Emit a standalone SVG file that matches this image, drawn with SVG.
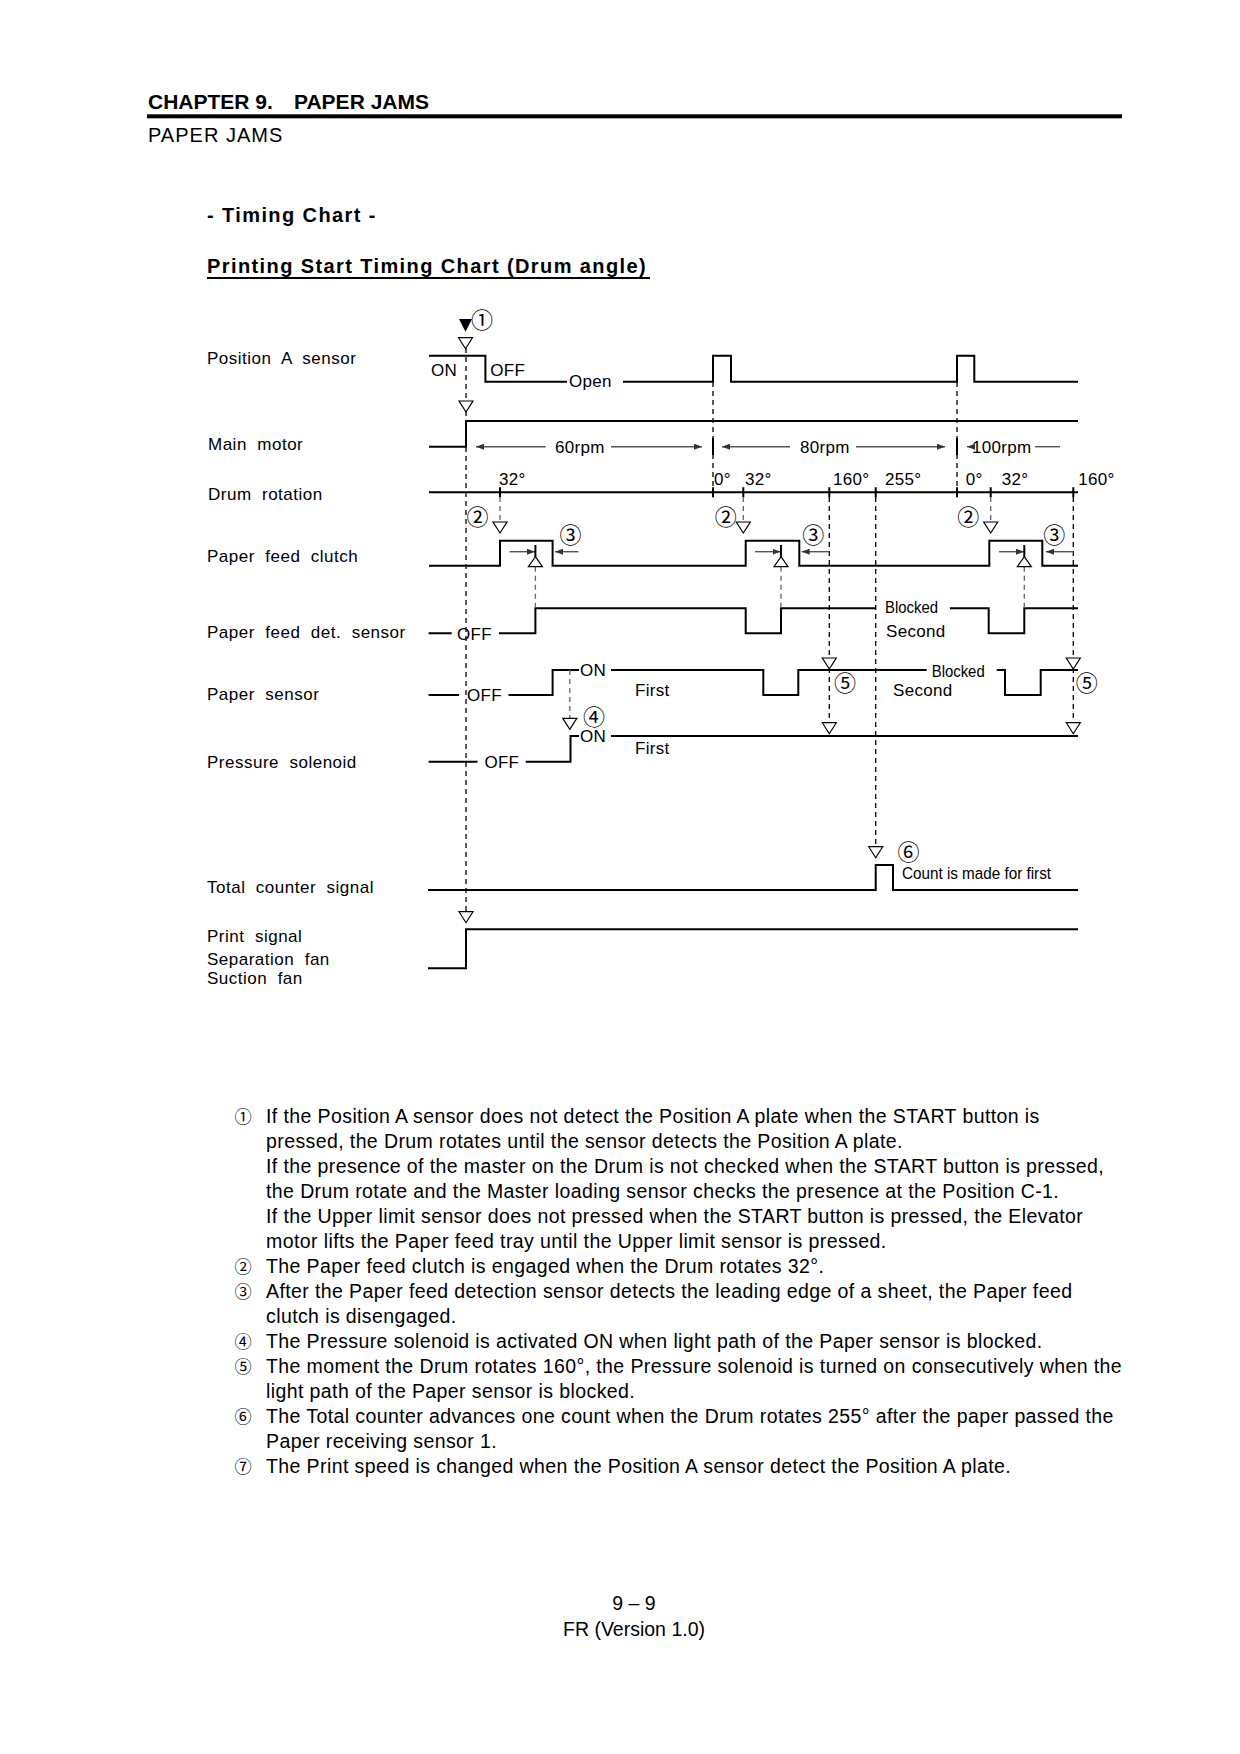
<svg xmlns="http://www.w3.org/2000/svg" width="1240" height="1754" viewBox="0 0 1240 1754">
<style>
text{font-family:"Liberation Sans",Arial,sans-serif;fill:#000}
.h1{font-size:21px;font-weight:bold}
.h2{font-size:20px;letter-spacing:1px}
.h3{font-size:20px;font-weight:bold;letter-spacing:1.4px}
.lbl{font-size:17px;letter-spacing:0.5px}
.sm{font-size:17px;letter-spacing:0.3px}
.nar{font-size:16px}
.cn{font-family:"Noto Sans CJK JP","DejaVu Sans",sans-serif;font-size:22px;text-anchor:middle}
.note{font-size:19.5px;letter-spacing:0.4px}
.ncn{font-family:"Noto Sans CJK JP","DejaVu Sans",sans-serif;font-size:17.2px;text-anchor:middle}
.sig{fill:none;stroke:#000;stroke-width:2}
.axis{fill:none;stroke:#000;stroke-width:2}
.dash{fill:none;stroke:#000;stroke-width:1.3;stroke-dasharray:5 4}
.gdash{fill:none;stroke:#666;stroke-width:1.3;stroke-dasharray:5 4}
.dim{fill:none;stroke:#555;stroke-width:1.4}
.tri{fill:#fff;stroke:#000;stroke-width:1.2}
</style>
<defs>
<marker id="ah" viewBox="0 0 8 6" refX="8" refY="3" markerWidth="8" markerHeight="6" markerUnits="userSpaceOnUse" orient="auto"><path d="M0,0 L8,3 L0,6 Z" fill="#333"/></marker>
<path id="td" d="M-7,0 L7,0 L0,11 Z"/>
<path id="tu" d="M0,0 L7,10 L-7,10 Z"/>
</defs>

<g id="header">
<text class="h1" x="148" y="109">CHAPTER 9.<tspan x="294">PAPER JAMS</tspan></text>
<rect x="147" y="114.3" width="975" height="4" fill="#000"/>
<text class="h2" x="148" y="141.7">PAPER JAMS</text>
<text class="h3" x="207" y="222">- Timing Chart -</text>
<text class="h3" x="207" y="273">Printing Start Timing Chart (Drum angle)</text>
<line x1="207" y1="278" x2="650" y2="278" stroke="#000" stroke-width="2"/>
</g>

<g id="labels">
<text class="lbl" x="207" y="364" xml:space="preserve">Position  A  sensor</text>
<text class="lbl" x="208" y="450" xml:space="preserve">Main  motor</text>
<text class="lbl" x="208" y="500" xml:space="preserve">Drum  rotation</text>
<text class="lbl" x="207" y="561.7" xml:space="preserve">Paper  feed  clutch</text>
<text class="lbl" x="207" y="638.3" xml:space="preserve">Paper  feed  det.  sensor</text>
<text class="lbl" x="207" y="700" xml:space="preserve">Paper  sensor</text>
<text class="lbl" x="207" y="768.3" xml:space="preserve">Pressure  solenoid</text>
<text class="lbl" x="207" y="893.3" xml:space="preserve">Total  counter  signal</text>
<text class="lbl" x="207" y="941.7" xml:space="preserve">Print  signal</text>
<text class="lbl" x="207" y="965" xml:space="preserve">Separation  fan</text>
<text class="lbl" x="207" y="983.5" xml:space="preserve">Suction  fan</text>
</g>

<g id="position-a-sensor">
<path class="sig" d="M429,355.7 H485.4 V381.7 H567 M623,381.7 H713 V355.7 H731 V381.7 H957 V355.7 H974.3 V381.7 H1078"/>
<text class="sm" x="431" y="376">ON</text>
<text class="sm" x="490.3" y="376">OFF</text>
<text class="sm" x="569" y="387.3">Open</text>
</g>

<g id="main-motor">
<path class="sig" d="M429,446.7 H466 V421 H1078"/>
<text class="sm" x="555" y="452.7">60rpm</text>
<text class="sm" x="800" y="452.7">80rpm</text>
<text class="sm" x="972" y="452.7">100rpm</text>
</g>

<g id="drum-rotation">
<path class="axis" d="M429,492.3 H1078 M500,487.3 V497.3 M713,487.3 V497.3 M743.3,487.3 V497.3 M829.3,487.3 V497.3 M875.7,487.3 V497.3 M957,487.3 V497.3 M990.7,487.3 V497.3 M1073.3,487.3 V497.3"/>
<text class="sm" x="499" y="485">32°</text>
<text class="sm" x="714" y="485">0°</text>
<text class="sm" x="745" y="485">32°</text>
<text class="sm" x="833" y="485">160°</text>
<text class="sm" x="885" y="485">255°</text>
<text class="sm" x="965.7" y="485">0°</text>
<text class="sm" x="1001.7" y="485">32°</text>
<text class="sm" x="1078.3" y="485">160°</text>
</g>

<g id="paper-feed-clutch">
<path class="sig" d="M429,565.7 H500 V540.7 H552.6 V565.7 H745.7 V540.7 H799.3 V565.7 H989.3 V540.7 H1042.3 V565.7 H1078"/>
</g>

<g id="paper-feed-det-sensor">
<path class="sig" d="M428.6,633.3 H451.7 M499,633.3 H535.4 V608.3 H745.7 V633.3 H781 V608.3 H875.7 M950,608.3 H988.7 V633.3 H1024.3 V608.3 H1078"/>
<text class="sm" x="457" y="639.5">OFF</text>
<text class="nar" x="885" y="613" textLength="53" lengthAdjust="spacingAndGlyphs">Blocked</text>
<text class="sm" x="886" y="637.3">Second</text>
</g>

<g id="paper-sensor">
<path class="sig" d="M428.6,695 H459 M508.5,695 H552.6 V670 H579 M611,670 H763.3 V695 H798.3 V670 H926.7 M996.7,670 H1005 V695 H1040.7 V670 H1078"/>
<text class="sm" x="467" y="701">OFF</text>
<text class="sm" x="580" y="676">ON</text>
<text class="sm" x="635" y="696">First</text>
<text class="nar" x="931.7" y="677" textLength="53" lengthAdjust="spacingAndGlyphs">Blocked</text>
<text class="sm" x="893" y="695.7">Second</text>
</g>

<g id="pressure-solenoid">
<path class="sig" d="M428.6,761.7 H477.5 M525.7,761.7 H570.5 V736 H579 M611,736 H1078"/>
<text class="sm" x="484.4" y="767.7">OFF</text>
<text class="sm" x="580" y="742">ON</text>
<text class="sm" x="635" y="754">First</text>
</g>

<g id="total-counter-signal">
<path class="sig" d="M428,890 H875.7 V865 H893 V890 H1078"/>
<text class="nar" x="902" y="879.3" textLength="149" lengthAdjust="spacingAndGlyphs">Count is made for first</text>
</g>

<g id="print-signal">
<path class="sig" d="M428,968.3 H466 V929.3 H1078"/>
</g>

<g id="connectors">
<path class="dash" d="M466,348 V913 M713,382 V492 M957,382 V492 M829.3,497 V733 M1073.3,497 V733 M875.7,497 V858"/>
<path class="gdash" d="M500,497 V522 M743.3,497 V522 M990.7,497 V522 M535.4,566.7 V608.3 M781,566.7 V608.3 M1024.3,566.7 V608.3 M569.8,670 V718.3"/>
<path class="axis" d="M713,438 V455 M957,438 V455"/>
<path class="dim" d="M545.7,446.7 H476" marker-end="url(#ah)"/>
<path class="dim" d="M611,446.7 H702" marker-end="url(#ah)"/>
<path class="dim" d="M790,446.7 H722" marker-end="url(#ah)"/>
<path class="dim" d="M856,446.7 H945" marker-end="url(#ah)"/>
<path class="dim" d="M972,446.7 H967" marker-end="url(#ah)"/>
<path class="dim" d="M1035,446.7 H1060"/>
<path class="dim" d="M509.6,551.7 H535" marker-end="url(#ah)"/>
<path class="dim" d="M755,551.7 H780.6" marker-end="url(#ah)"/>
<path class="dim" d="M999,551.7 H1024" marker-end="url(#ah)"/>
<path class="dim" d="M578.4,551.7 H555" marker-end="url(#ah)"/>
<path class="dim" d="M829.3,551.7 H801.7" marker-end="url(#ah)"/>
<path class="dim" d="M1073.3,551.7 H1046" marker-end="url(#ah)"/>
<path class="sig" stroke-width="1.5" d="M535.4,545 V557 M781,545 V557 M1024.3,545 V557"/>
<path d="M459,319 L472,319 L465.5,331.7 Z" fill="#000"/>
<use href="#td" class="tri" x="465.5" y="337.7"/>
<use href="#td" class="tri" x="466" y="401"/>
<use href="#td" class="tri" x="500" y="522"/>
<use href="#td" class="tri" x="743.3" y="522"/>
<use href="#td" class="tri" x="990.7" y="522"/>
<use href="#tu" class="tri" x="535.4" y="556.7"/>
<use href="#tu" class="tri" x="781" y="556.7"/>
<use href="#tu" class="tri" x="1024.3" y="556.7"/>
<use href="#td" class="tri" x="829.3" y="658"/>
<use href="#td" class="tri" x="829.3" y="722.7"/>
<use href="#td" class="tri" x="1073.3" y="658"/>
<use href="#td" class="tri" x="1073.3" y="722.7"/>
<use href="#td" class="tri" x="569.8" y="718.3"/>
<use href="#td" class="tri" x="875.7" y="846.7"/>
<use href="#td" class="tri" x="466" y="911.7"/>
</g>

<g id="markers">
<text class="cn" x="482" y="327.8">①</text>
<text class="cn" x="477.5" y="525.2">②</text>
<text class="cn" x="725.7" y="525.2">②</text>
<text class="cn" x="968.3" y="525.2">②</text>
<text class="cn" x="570.5" y="542.8">③</text>
<text class="cn" x="813.3" y="542.8">③</text>
<text class="cn" x="1054.3" y="542.8">③</text>
<text class="cn" x="594" y="724.5">④</text>
<text class="cn" x="845" y="691.2">⑤</text>
<text class="cn" x="1086.7" y="691.2">⑤</text>
<text class="cn" x="908.5" y="860.2">⑥</text>
</g>

<g id="notes">
<text class="ncn" x="243" y="1122.5">①</text>
<text class="note" x="266" y="1123">If the Position A sensor does not detect the Position A plate when the START button is</text>
<text class="note" x="266" y="1148">pressed, the Drum rotates until the sensor detects the Position A plate.</text>
<text class="note" x="266" y="1173">If the presence of the master on the Drum is not checked when the START button is pressed,</text>
<text class="note" x="266" y="1198">the Drum rotate and the Master loading sensor checks the presence at the Position C-1.</text>
<text class="note" x="266" y="1223">If the Upper limit sensor does not pressed when the START button is pressed, the Elevator</text>
<text class="note" x="266" y="1248">motor lifts the Paper feed tray until the Upper limit sensor is pressed.</text>
<text class="ncn" x="243" y="1272.5">②</text>
<text class="note" x="266" y="1273">The Paper feed clutch is engaged when the Drum rotates 32°.</text>
<text class="ncn" x="243" y="1297.5">③</text>
<text class="note" x="266" y="1298">After the Paper feed detection sensor detects the leading edge of a sheet, the Paper feed</text>
<text class="note" x="266" y="1323">clutch is disengaged.</text>
<text class="ncn" x="243" y="1347.5">④</text>
<text class="note" x="266" y="1348">The Pressure solenoid is activated ON when light path of the Paper sensor is blocked.</text>
<text class="ncn" x="243" y="1372.5">⑤</text>
<text class="note" x="266" y="1373">The moment the Drum rotates 160°, the Pressure solenoid is turned on consecutively when the</text>
<text class="note" x="266" y="1398">light path of the Paper sensor is blocked.</text>
<text class="ncn" x="243" y="1422.5">⑥</text>
<text class="note" x="266" y="1423">The Total counter advances one count when the Drum rotates 255° after the paper passed the</text>
<text class="note" x="266" y="1448">Paper receiving sensor 1.</text>
<text class="ncn" x="243" y="1472.5">⑦</text>
<text class="note" x="266" y="1473">The Print speed is changed when the Position A sensor detect the Position A plate.</text>
</g>

<g id="footer">
<text x="634" y="1610" font-size="19.5" text-anchor="middle">9 – 9</text>
<text x="634" y="1635.5" font-size="19.5" text-anchor="middle">FR (Version 1.0)</text>
</g>
</svg>
